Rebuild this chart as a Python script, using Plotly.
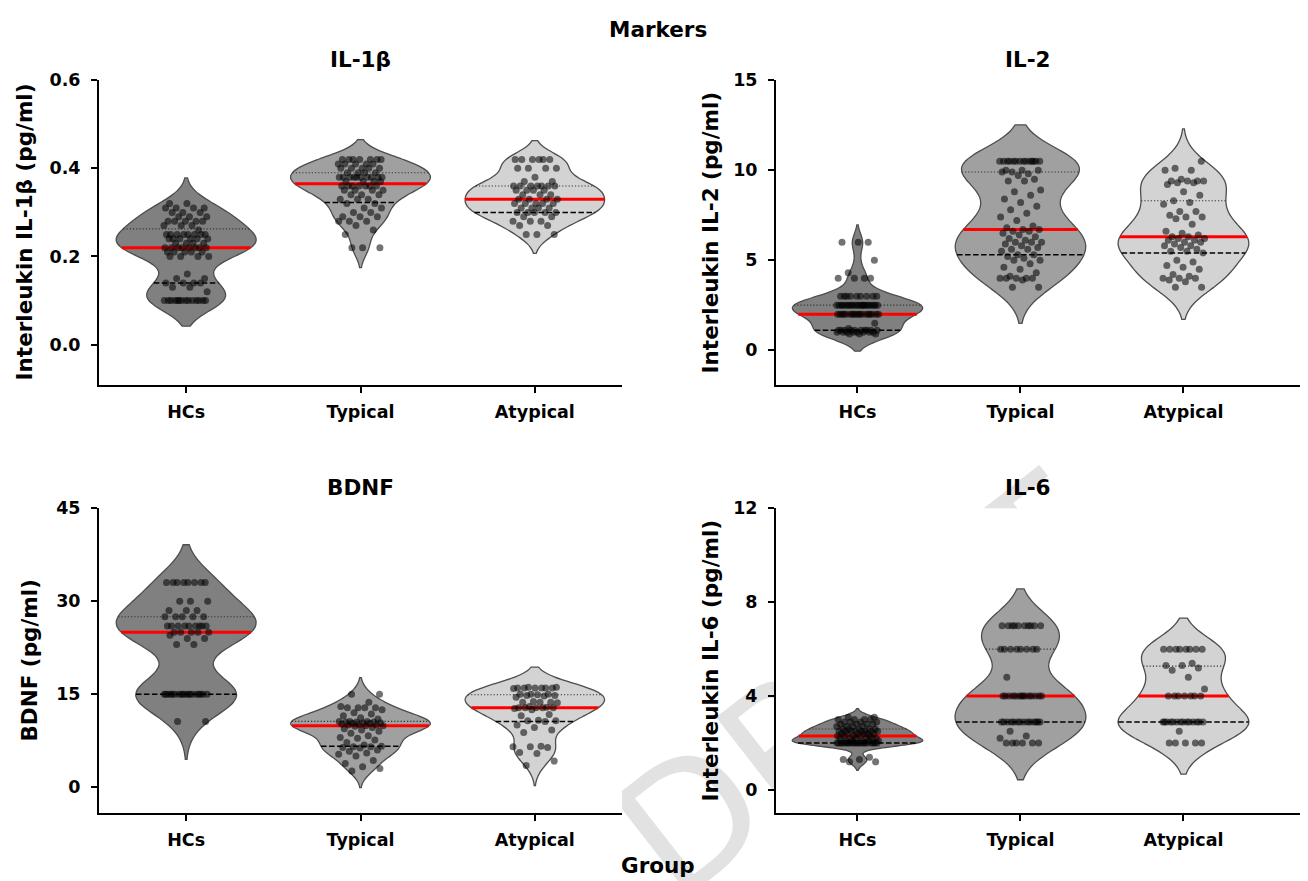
import numpy as np
import plotly.graph_objects as go

W, H = 1308, 881
FONT = "DejaVu Sans"

groups = ["HCs", "Typical", "Atypical"]
group_fills = ["#808080", "#a0a0a0", "#d3d3d3"]

# IL-1beta (pg/ml)
il1b_hcs = [0.10, 0.10, 0.10, 0.10, 0.10, 0.10, 0.10, 0.10, 0.10, 0.10, 0.10, 0.10, 0.10, 0.10,
            0.12, 0.13, 0.13, 0.14, 0.14, 0.14, 0.14, 0.15, 0.15, 0.16,
            0.20, 0.20, 0.20, 0.20, 0.21, 0.21, 0.21, 0.21, 0.21,
            0.22, 0.22, 0.22, 0.22, 0.22, 0.22, 0.22, 0.22, 0.23, 0.23, 0.23, 0.23,
            0.24, 0.24, 0.24, 0.24, 0.24, 0.24, 0.25, 0.25, 0.25, 0.25, 0.25, 0.25, 0.25, 0.25, 0.26,
            0.27, 0.27, 0.27, 0.28, 0.28, 0.28, 0.28, 0.28, 0.29, 0.29, 0.29, 0.30, 0.30, 0.30,
            0.31, 0.31, 0.31, 0.31, 0.32, 0.32]
il1b_typ = [0.22, 0.22, 0.22, 0.25, 0.26, 0.27, 0.28, 0.28, 0.28, 0.29, 0.29, 0.29, 0.30, 0.30,
            0.31, 0.31, 0.32, 0.32, 0.33, 0.33, 0.33, 0.34, 0.34, 0.34, 0.35, 0.35, 0.35, 0.35,
            0.36, 0.36, 0.36, 0.36, 0.36, 0.36, 0.36, 0.37, 0.37, 0.37, 0.37,
            0.38, 0.38, 0.38, 0.38, 0.38, 0.38, 0.38, 0.38, 0.38, 0.38, 0.39, 0.39, 0.39, 0.39,
            0.40, 0.40, 0.40, 0.40, 0.40, 0.41, 0.41, 0.41, 0.41, 0.41,
            0.42, 0.42, 0.42, 0.42, 0.42, 0.42, 0.42]
il1b_aty = [0.25, 0.25, 0.25, 0.27, 0.27, 0.28, 0.28, 0.28, 0.29, 0.29, 0.30, 0.30, 0.30, 0.30, 0.30,
            0.31, 0.31, 0.31, 0.31, 0.32, 0.32, 0.32, 0.32, 0.32, 0.33, 0.33, 0.33, 0.33,
            0.34, 0.34, 0.34, 0.35, 0.35, 0.35, 0.35, 0.36, 0.36, 0.36, 0.36, 0.36, 0.36, 0.36,
            0.37, 0.37, 0.38, 0.40, 0.40, 0.40, 0.40, 0.42, 0.42, 0.42, 0.42, 0.42, 0.42]

# IL-2 (pg/ml)
il2_hcs = [0.9, 0.9, 0.9, 1.0, 1.0, 1.0, 1.0, 1.0, 1.0, 1.0, 1.0,
           1.1, 1.1, 1.1, 1.1, 1.1, 1.1, 1.1, 1.1, 1.1, 1.1, 1.2, 1.5,
           2.0, 2.0, 2.0, 2.0, 2.0, 2.0, 2.0, 2.0, 2.0, 2.0, 2.0, 2.0, 2.0, 2.0, 2.0, 2.0, 2.0, 2.0,
           2.5, 2.5, 2.5, 2.5, 2.5, 2.5, 2.5, 2.5, 2.5, 2.5, 2.5, 2.5, 2.5, 2.5, 2.5, 2.5, 2.5, 2.5,
           2.5, 2.5, 2.5, 2.5,
           3.0, 3.0, 3.0, 3.0, 3.0, 3.0, 3.0, 3.0, 3.0, 4.0, 4.0, 4.0, 4.0, 4.3, 5.0, 6.0, 6.0, 6.0]
il2_typ = [3.5, 3.5, 3.9, 4.0, 4.0, 4.0, 4.0, 4.0, 4.1, 4.3, 4.5, 4.6, 4.8, 5.0, 5.0, 5.1, 5.2, 5.3,
           5.3, 5.5, 5.6, 5.6, 5.7, 5.8, 5.9, 6.0, 6.0, 6.0, 6.1, 6.2, 6.3, 6.4, 6.5, 6.6, 6.6, 6.7,
           6.7, 6.8, 6.9, 7.2, 7.4, 7.6, 7.8, 8.0, 8.2, 8.4, 8.6, 8.8, 8.9, 9.4, 9.4, 9.5, 9.7, 9.9,
           9.8, 9.9, 10.0, 10.0, 10.0, 10.5, 10.5, 10.5, 10.5, 10.5, 10.5, 10.5, 10.5, 10.5, 10.5,
           10.5, 10.5, 10.5, 10.5]
il2_aty = [3.5, 3.5, 3.8, 3.9, 4.0, 4.0, 4.0, 4.1, 4.2, 4.5, 4.6, 4.7, 4.9, 5.0,
           5.4, 5.5, 5.5, 5.6, 5.7, 5.8, 5.8, 5.9, 6.0, 6.0, 6.1, 6.1, 6.2, 6.2,
           6.3, 6.3, 6.4, 6.5, 6.6, 7.0, 7.3, 7.4, 7.4, 7.5, 7.7, 7.7, 8.1, 8.2,
           8.3, 8.6, 8.8, 9.2, 9.3, 9.3, 9.4, 9.4, 9.4, 9.4, 9.5, 10.0, 10.0, 10.1, 10.5]

# BDNF (pg/ml)
bdnf_hcs = [10.6, 10.6, 15, 15, 15, 15, 15, 15, 15, 15, 15, 15, 15, 15, 15, 15, 15, 15, 15, 15,
            23, 23, 24, 24, 24.5, 25, 25, 25, 25, 25,
            26, 26, 26, 26, 26, 26, 26, 26, 26, 27.5, 27.5, 27.5, 27.5, 27.5,
            28.5, 28.5, 28.5, 30, 30, 30, 33, 33, 33, 33, 33, 33, 33, 33]
bdnf_typ = [2.6, 3.0, 3.3, 3.8, 4.3, 5.0, 5.3, 5.5, 5.8, 6.0, 6.3, 6.4, 6.5, 6.5,
            6.6, 6.8, 7.2, 7.6, 7.9, 8.0, 8.3, 8.7, 9.0, 9.2, 9.4, 9.6, 9.8, 9.9,
            9.9, 10.0, 10.0, 10.1, 10.2, 10.3, 10.3, 10.4, 10.4, 10.5, 10.5, 10.5, 10.6, 10.6,
            10.6, 11.0, 11.2, 11.5, 11.8, 12.0, 12.5, 12.8, 12.8, 12.8, 12.8, 13.0, 13.7, 15.0, 15.0]
bdnf_aty = [3.5, 4.2, 5.4, 5.6, 6.4, 6.5, 6.5, 6.6, 8.8, 9.2, 9.6, 10.0,
            10.6, 10.7, 10.7, 10.8, 11.5, 11.7, 12.5, 12.7, 12.8, 12.8, 12.8, 12.8,
            12.8, 12.9, 13.0, 13.6, 13.7, 13.7, 13.7, 13.8, 14.5, 14.7, 14.8, 14.8,
            14.9, 15.0, 15.0, 15.0, 15.9, 16.0, 16.0, 16.0, 16.0, 16.0, 16.0, 16.1, 16.1]

# IL-6 (pg/ml)
il6_hcs = [1.2, 1.2, 1.3, 1.3, 1.4,
           2.0, 2.0, 2.0, 2.0, 2.0, 2.0, 2.0, 2.0, 2.0, 2.0, 2.0, 2.0, 2.0, 2.0, 2.0, 2.0, 2.0, 2.0,
           2.0, 2.0, 2.1, 2.1, 2.1, 2.1, 2.1, 2.2, 2.2, 2.2, 2.2, 2.2, 2.2, 2.3, 2.3, 2.3, 2.3, 2.3,
           2.4, 2.4, 2.4, 2.4, 2.4, 2.4, 2.5, 2.5, 2.5, 2.5, 2.5, 2.5, 2.5, 2.5,
           2.6, 2.6, 2.6, 2.6, 2.6, 2.7, 2.7, 2.7, 2.7, 2.8, 2.8, 2.8, 2.8,
           2.9, 2.9, 2.9, 2.9, 3.0, 3.0, 3.0, 3.0, 3.1, 3.1]
il6_typ = [2.0, 2.0, 2.0, 2.0, 2.0, 2.0, 2.2, 2.3, 2.5,
           2.9, 2.9, 2.9, 2.9, 2.9, 2.9, 2.9, 2.9, 2.9, 2.9, 2.9, 2.9, 2.9, 2.9,
           4.0, 4.0, 4.0, 4.0, 4.0, 4.0, 4.0, 4.0, 4.0, 4.0, 4.0, 4.0, 4.0, 4.0, 4.8,
           6.0, 6.0, 6.0, 6.0, 6.0, 6.0, 6.0, 6.0,
           7.0, 7.0, 7.0, 7.0, 7.0, 7.0, 7.0, 7.0, 7.0, 7.0]
il6_aty = [2.0, 2.0, 2.0, 2.0, 2.0, 2.5,
           2.9, 2.9, 2.9, 2.9, 2.9, 2.9, 2.9, 2.9, 2.9, 2.9, 2.9, 2.9, 2.9, 2.9,
           4.0, 4.0, 4.0, 4.0, 4.0, 4.0, 4.0, 4.3, 4.8, 5.1, 5.2, 5.3, 5.3, 5.4,
           6.0, 6.0, 6.0, 6.0, 6.0, 6.0, 6.0, 6.0]

panels = [
    dict(title="IL-1β", ylabel="Interleukin IL-1β (pg/ml)", data=[il1b_hcs, il1b_typ, il1b_aty],
         yrange=[-0.091, 0.6], dtick=0.2, fmt=".1f", px=(99, 622), xrange=[-0.5, 2.5],
         py=(71, 379), lab_x=24, title_x=360),
    dict(title="IL-2", ylabel="Interleukin IL-2 (pg/ml)", data=[il2_hcs, il2_typ, il2_aty],
         yrange=[-1.92, 15], dtick=5, fmt="d", px=(776, 1300), xrange=[-0.5, 2.715],
         py=(71, 379), lab_x=710, title_x=1028),
    dict(title="BDNF", ylabel="BDNF (pg/ml)", data=[bdnf_hcs, bdnf_typ, bdnf_aty],
         yrange=[-4.15, 45], dtick=15, fmt="d", px=(99, 622), xrange=[-0.5, 2.5],
         py=(504, 812), lab_x=30, title_x=360),
    dict(title="IL-6", ylabel="Interleukin IL-6 (pg/ml)", data=[il6_hcs, il6_typ, il6_aty],
         yrange=[-0.97, 12], dtick=4, fmt="d", px=(776, 1300), xrange=[-0.5, 2.715],
         py=(504, 812), lab_x=711, title_x=1028),
]

VIOLIN_WIDTH = 0.8
JITTER = 0.13
TICK_SIZE = 17.5
LABEL_SIZE = 21.5


def fx(p):
    return p / W


def fy(p):
    return 1 - p / H


def scott_bw(v):
    v = np.asarray(v, float)
    return v.std(ddof=1) * len(v) ** (-0.2)


def kde(v, pts, bw):
    v = np.asarray(v, float)
    u = (np.asarray(pts, float)[:, None] - v[None, :]) / bw
    return np.exp(-0.5 * u * u).sum(axis=1) / (len(v) * bw * np.sqrt(2 * np.pi))


fig = go.Figure()

# full-page backdrop subplot carrying the watermark
fig.add_trace(go.Scatter(x=[None], y=[None], xaxis="x", yaxis="y",
                         showlegend=False, hoverinfo="skip"))
axis_font = dict(family=FONT, size=TICK_SIZE, color="black", weight="bold")
label_font = dict(family=FONT, size=LABEL_SIZE, color="black", weight="bold")
layout = dict(
    xaxis=dict(domain=[0, 1], range=[0, 1], visible=False, fixedrange=True),
    yaxis=dict(domain=[0, 1], range=[0, 1], visible=False, fixedrange=True),
)

annotations = []
for k, p in enumerate(panels):
    n = k + 2
    xa, ya = f"x{n}", f"y{n}"
    layout[f"xaxis{n}"] = dict(
        domain=[fx(p["px"][0]), fx(p["px"][1])], range=p["xrange"], type="linear",
        anchor=ya, tickvals=[0, 1, 2], ticktext=groups, showline=True, linecolor="black",
        linewidth=2, ticks="outside", ticklen=6, tickwidth=2, tickcolor="black",
        showgrid=False, zeroline=False, tickfont=axis_font, ticklabelstandoff=4, fixedrange=True)
    layout[f"yaxis{n}"] = dict(
        domain=[fy(p["py"][1]), fy(p["py"][0])], range=p["yrange"], anchor=xa,
        tick0=0, dtick=p["dtick"], tickformat=p["fmt"], showline=True, linecolor="black",
        linewidth=2, ticks="outside", ticklen=6, tickwidth=2, tickcolor="black",
        showgrid=False, zeroline=False, tickfont=axis_font, ticklabelstandoff=7, fixedrange=True)

    line_traces, point_traces = [], []
    for i, (vals, fill) in enumerate(zip(p["data"], group_fills)):
        v = np.asarray(vals, float)
        bw = scott_bw(v)
        fig.add_trace(go.Violin(
            x0=i, y=v, width=VIOLIN_WIDTH, bandwidth=bw, spanmode="soft",
            fillcolor=fill, line=dict(color="#4d4d4d", width=1.3), points=False,
            hoverinfo="skip", showlegend=False, xaxis=xa, yaxis=ya))

        grid = np.linspace(v.min() - 2 * bw, v.max() + 2 * bw, 600)
        peak = kde(v, grid, bw).max()
        q1, med, q3 = np.percentile(v, [25, 50, 75])
        for val, color, width, dash in [(q3, "#333333", 1.1, "1.2px,2px"),
                                        (q1, "black", 1.5, "5.5px,2.5px"),
                                        (med, "red", 3, "solid")]:
            hw = VIOLIN_WIDTH / 2 * kde(v, [val], bw)[0] / peak
            line_traces.append(go.Scatter(
                x=[i - hw, i + hw], y=[val, val], mode="lines",
                line=dict(color=color, width=width, dash=dash),
                hoverinfo="skip", showlegend=False, xaxis=xa, yaxis=ya))

        # deterministic spread of points across the category
        idx = np.arange(len(v))
        offs = ((idx * 0.6180339887 + 0.31) % 1.0 - 0.5) * 2 * JITTER
        point_traces.append(go.Scatter(
            x=i + offs, y=v, mode="markers",
            marker=dict(size=7, color="rgba(0,0,0,0.55)", line=dict(width=0)),
            hoverinfo="skip", showlegend=False, xaxis=xa, yaxis=ya))

    for t in line_traces + point_traces:
        fig.add_trace(t)

    annotations.append(dict(text=p["title"], x=fx(p["title_x"]), y=fy(p["py"][0] - 21),
                            xref="paper", yref="paper", showarrow=False, font=label_font,
                            xanchor="center", yanchor="middle"))
    cy = (p["py"][0] + p["py"][1]) / 2
    annotations.append(dict(text=p["ylabel"], x=fx(p["lab_x"]), y=fy(cy),
                            xref="paper", yref="paper", showarrow=False, textangle=-90,
                            font=label_font, xanchor="center", yanchor="middle"))

annotations.append(dict(text="Markers", x=fx(658), y=fy(20), xref="paper", yref="paper",
                        showarrow=False, xanchor="center", yanchor="middle", font=label_font))
annotations.append(dict(text="Group", x=fx(658), y=fy(865), xref="paper", yref="paper",
                        showarrow=False, xanchor="center", yanchor="middle", font=label_font))

# light diagonal watermark, drawn behind the panels' white backgrounds
wm_angle = 38.0
wm_center = (852, 676)
wm_half = 300
dx, dy = np.cos(np.radians(wm_angle)) * wm_half, np.sin(np.radians(wm_angle)) * wm_half
watermark = dict(
    type="line", xref="x", yref="y", layer="below",
    x0=fx(wm_center[0] - dx), y0=fy(wm_center[1] + dy),
    x1=fx(wm_center[0] + dx), y1=fy(wm_center[1] - dy),
    line=dict(color="rgba(0,0,0,0)", width=1),
    label=dict(text="DRAFT", textposition="middle", textangle=-wm_angle,
               xanchor="center", yanchor="middle",
               font=dict(family=FONT, size=170, color="#e2e2e2")))

fig.update_layout(
    **layout,
    width=W, height=H, autosize=False,
    margin=dict(l=0, r=0, t=0, b=0),
    paper_bgcolor="white", plot_bgcolor="white",
    annotations=annotations, shapes=[watermark],
    font=dict(family=FONT, color="black"),
    violinmode="overlay",
)

fig.write_html("out.html", post_script="document.body.style.margin = '0px';")
